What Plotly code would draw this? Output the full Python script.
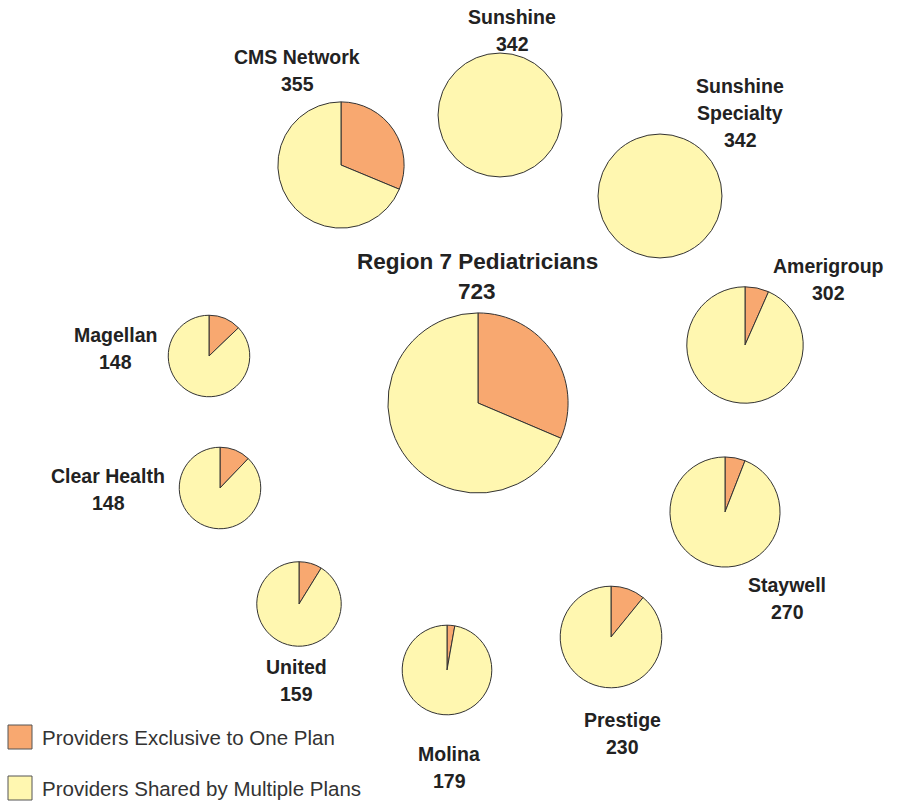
import plotly.graph_objects as go
import math

# ---- data ----
plans = ["Region 7 Pediatricians", "CMS Network", "Sunshine", "Sunshine Specialty",
         "Amerigroup", "Staywell", "Prestige", "Molina", "United", "Clear Health", "Magellan"]
label_lines = [["Region 7 Pediatricians"], ["CMS Network"], ["Sunshine"], ["Sunshine", "Specialty"],
               ["Amerigroup"], ["Staywell"], ["Prestige"], ["Molina"], ["United"], ["Clear Health"], ["Magellan"]]
totals = [723, 355, 342, 342, 302, 270, 230, 179, 159, 148, 148]
exclusive = [227, 111, 0, 0, 20, 16, 25, 5, 14, 18, 19]
categories = ["Providers Exclusive to One Plan", "Providers Shared by Multiple Plans"]

# ---- layout (image pixel positions) ----
W, H, OFF = 901, 801, 0
centers = [(478, 403), (341, 165), (500, 115), (660, 196), (745, 345), (725, 512),
           (611, 637), (447, 670), (299, 604), (220, 488), (209, 356)]
label_pos = [(477, 261), (297, 57), (512, 17), (740, 86), (828, 266), (787, 585),
             (622, 720), (449, 754), (296, 667), (108, 476), (115, 335)]
K = 3.35
colors = ["#F8A870", "#FFF7B0"]
LINE = 27

fig = go.Figure()
ann = []
for i, name in enumerate(plans):
    cx, cy = centers[i]
    r = K * math.sqrt(totals[i])
    x0 = (cx - OFF - r) / W
    x1 = (cx - OFF + r) / W
    y0 = 1 - (cy - OFF + r) / H
    y1 = 1 - (cy - OFF - r) / H
    fig.add_trace(go.Pie(
        labels=categories,
        values=[exclusive[i], totals[i] - exclusive[i]],
        domain=dict(x=[max(0, x0), min(1, x1)], y=[max(0, y0), min(1, y1)]),
        sort=False, direction="clockwise", rotation=0,
        marker=dict(colors=colors, line=dict(color="#333333", width=1)),
        textinfo="none", hoverinfo="label+value", showlegend=False, name=name,
    ))
    lines = label_lines[i] + [str(totals[i])]
    lx, ly = label_pos[i]
    size = 22.5 if i == 0 else 19.5
    pitch = 30 if i == 0 else LINE
    for j, t in enumerate(lines):
        ann.append(dict(x=(lx - OFF) / W, y=1 - (ly - OFF + j * pitch) / H,
                        xref="paper", yref="paper", text="<b>" + t + "</b>", showarrow=False,
                        xanchor="center", yanchor="middle",
                        font=dict(family="Liberation Sans Narrow, Arial Narrow, Liberation Sans, sans-serif",
                                  size=size, color="#222222")))

# legend
shapes = []
leg_y = [737, 788]
for k, cat in enumerate(categories):
    yc = leg_y[k]
    shapes.append(dict(type="rect", xref="paper", yref="paper",
                       x0=(8 - OFF) / W, x1=(32 - OFF) / W,
                       y0=1 - (yc + 12 - OFF) / H, y1=1 - (yc - 12 - OFF) / H,
                       fillcolor=colors[k], line=dict(color="#555555", width=1)))
    ann.append(dict(x=(40 - OFF) / W, y=1 - (yc - OFF) / H, xref="paper", yref="paper",
                    text=cat, showarrow=False, xanchor="left", yanchor="middle",
                    font=dict(family="Liberation Sans, Arial, sans-serif", size=20.5, color="#333333")))

fig.update_layout(width=W, height=H, margin=dict(l=0, r=0, t=0, b=0),
                  paper_bgcolor="white", plot_bgcolor="white",
                  annotations=ann, shapes=shapes, showlegend=False)
fig.write_html("out.html", config={"displayModeBar": False},
               post_script="document.body.style.margin='0';document.body.style.overflow='hidden';")
